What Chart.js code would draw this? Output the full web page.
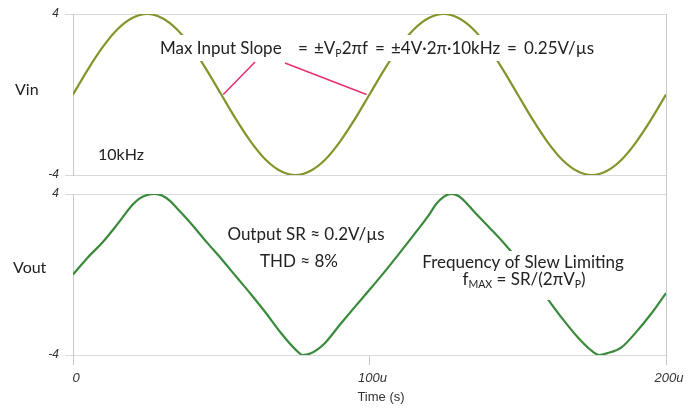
<!DOCTYPE html>
<html>
<head>
<meta charset="utf-8">
<script src="https://cdn.jsdelivr.net/npm/chart.js@4"></script>
<style>
  body { margin: 0; background: #fff; }
  #wrap { position: relative; width: 700px; height: 408px; }
  #top { position: absolute; left: 0; top: 0; }
  #bot { position: absolute; left: 0; top: 186px; }
</style>
</head>
<body>
<div id="wrap">
  <canvas id="top" width="700" height="186"></canvas>
  <canvas id="bot" width="700" height="222"></canvas>
</div>
<script>
var vinTime = [0,5,10,15,20,25,30,35,40,45,50,55,60,65,70,75,80,85,90,95,100,
               105,110,115,120,125,130,135,140,145,150,155,160,165,170,175,180,185,190,195,200];
var vin = [0,1.24,2.35,3.24,3.80,4,3.80,3.24,2.35,1.24,0,-1.24,-2.35,-3.24,-3.80,-4,-3.80,-3.24,-2.35,-1.24,0,
           1.24,2.35,3.24,3.80,4,3.80,3.24,2.35,1.24,0,-1.24,-2.35,-3.24,-3.80,-4,-3.80,-3.24,-2.35,-1.24,0];

// slew limited output
var voutTime = [0,5,10,15,20,22.5,25,27.5,30,32.5,35,40,45,50,55,60,65,70,75,77.5,80,82.5,85,90,95,100,
                105,110,115,120,122.5,125,127.5,130,132.5,135,140,145,150,155,160,165,170,175,177.5,180,185,190,195,200];
var vout = [0,0.85,1.60,2.50,3.45,3.78,3.95,4.0,3.92,3.68,3.30,2.50,1.62,0.78,-0.10,-0.98,-1.90,-2.88,-3.72,-4.0,-3.93,-3.72,-3.40,-2.50,-1.62,-0.76,
            0.12,1.04,1.98,2.95,3.50,3.86,4.0,3.90,3.58,3.17,2.40,1.62,0.75,-0.22,-1.20,-2.18,-3.08,-3.80,-4.0,-3.92,-3.62,-2.85,-1.95,-0.92];

var yTicks = [-4, 4];
var xTicks = [0, 100, 200];

Chart.defaults.font.family = "'Liberation Sans', Arial";

function pts(t, v) { return t.map(function (x, i) { return {x: x, y: v[i]}; }); }

var TXT = '#222';
var FS = 17;

// draws text made of runs, [text, subscript?]
function runs(ctx, parts, x, y, size, align) {
  var w = 0;
  parts.forEach(function (p) {
    ctx.font = (p[1] ? size * 0.62 : size) + 'px Lato';
    w += ctx.measureText(p[0]).width;
  });
  var cx = align === 'center' ? x - w / 2 : x;
  ctx.textAlign = 'left';
  ctx.textBaseline = 'middle';
  ctx.fillStyle = TXT;
  parts.forEach(function (p) {
    ctx.font = (p[1] ? size * 0.62 : size) + 'px Lato';
    ctx.fillText(p[0], cx, p[1] ? y + size * 0.3 : y);
    cx += ctx.measureText(p[0]).width;
  });
}

function rightLine(ctx, y0, y1) {
  ctx.save();
  ctx.strokeStyle = '#c8c8c8';
  ctx.lineWidth = 1;
  ctx.beginPath();
  ctx.moveTo(666.5, y0); ctx.lineTo(666.5, y1);
  ctx.stroke();
  ctx.restore();
}

function yAxis() {
  return {
    min: -4, max: 4,
    afterBuildTicks: function (ax) { ax.ticks = yTicks.map(function (v) { return {value: v}; }); },
    afterFit: function (ax) { ax.width = 73; ax.paddingTop = 0; ax.paddingBottom = 0; },
    ticks: {font: {size: 12, style: 'italic'}, color: '#333', padding: 6},
    grid: {color: '#d9d9d9', tickLength: 8},
    border: {display: true, color: '#c8c8c8'}
  };
}

var topDeco = {
  id: 'topDeco',
  afterDatasetsDraw: function (chart) {
    var ctx = chart.ctx, x = chart.scales.x, y = chart.scales.y;
    ctx.save();
    ctx.fillStyle = '#fff';
    ctx.fillRect(158, 35, 444, 26);
    // pointer lines to the zero crossings
    ctx.strokeStyle = '#e8336d';
    ctx.lineWidth = 1.6;
    ctx.beginPath();
    ctx.moveTo(255, 62); ctx.lineTo(x.getPixelForValue(50) + 2, y.getPixelForValue(0));
    ctx.moveTo(285, 63); ctx.lineTo(x.getPixelForValue(100) - 3, y.getPixelForValue(0));
    ctx.stroke();
    runs(ctx, [['Max Input Slope']], 160, 49, FS);
    runs(ctx, [['=']], 298, 49, FS);
    runs(ctx, [['±V'], ['P', true], ['2πf']], 314, 49, FS);
    runs(ctx, [['=']], 375, 49, FS);
    runs(ctx, [['±4V·2π·10kHz']], 391, 49, FS);
    runs(ctx, [['=']], 507, 49, FS);
    runs(ctx, [['0.25V/µs']], 524, 49, FS);
    runs(ctx, [['Vin']], 15, 90, 16);
    runs(ctx, [['10kHz']], 98, 155, 16);
    ctx.restore();
  },
  afterDraw: function (chart) { rightLine(chart.ctx, 14, 186); }
};

var botDeco = {
  id: 'botDeco',
  afterDatasetsDraw: function (chart) {
    var ctx = chart.ctx;
    ctx.save();
    ctx.fillStyle = '#fff';
    ctx.fillRect(414, 65, 218, 49);
    runs(ctx, [['Output SR ≈ 0.2V/µs']], 306, 49, FS, 'center');
    runs(ctx, [['THD ≈ 8%']], 299, 76, FS, 'center');
    runs(ctx, [['Frequency of Slew Limiting']], 523, 77, FS, 'center');
    runs(ctx, [['f'], ['MAX', true], [' = SR/(2πV'], ['P', true], [')']], 524, 94, FS, 'center');
    runs(ctx, [['Vout']], 13, 82, 16);
    // axis title
    ctx.font = "13px 'Liberation Sans', Arial";
    ctx.fillStyle = '#333';
    ctx.textAlign = 'center';
    ctx.textBaseline = 'middle';
    ctx.fillText('Time (s)', 381, 211);
    ctx.restore();
  },
  afterDraw: function (chart) { rightLine(chart.ctx, 0, 176); }
};

var topChart = new Chart(document.getElementById('top'), {
  type: 'line',
  data: {
    datasets: [{
      label: 'Vin',
      data: pts(vinTime, vin),
      borderColor: '#83952a',
      borderWidth: 2.2,
      pointRadius: 0,
      cubicInterpolationMode: 'monotone'
    }]
  },
  options: {
    responsive: false,
    animation: false,
    layout: {padding: {top: 14, right: 34, bottom: 11, left: 0}},
    plugins: {legend: {display: false}, tooltip: {enabled: false}},
    scales: {
      x: {type: 'linear', min: 0, max: 200, display: false},
      y: yAxis()
    }
  },
  plugins: [topDeco]
});

var botChart = new Chart(document.getElementById('bot'), {
  type: 'line',
  data: {
    datasets: [{
      label: 'Vout',
      data: pts(voutTime, vout),
      borderColor: '#3a8a3c',
      borderWidth: 2.2,
      pointRadius: 0,
      cubicInterpolationMode: 'monotone'
    }]
  },
  options: {
    responsive: false,
    animation: false,
    layout: {padding: {top: 8, right: 34, bottom: 0, left: 0}},
    plugins: {legend: {display: false}, tooltip: {enabled: false}},
    scales: {
      x: {
        type: 'linear', min: 0, max: 200,
        afterBuildTicks: function (ax) { ax.ticks = xTicks.map(function (v) { return {value: v}; }); },
        afterFit: function (ax) { ax.height = 53; },
        ticks: {
          font: {size: 13, style: 'italic'}, color: '#333', padding: 6, maxRotation: 0, labelOffset: 3,
          callback: function (v) { return v === 0 ? '0' : v + 'u'; }
        },
        grid: {drawOnChartArea: false, tickLength: 10, color: '#c8c8c8'},
        border: {display: false}
      },
      y: yAxis()
    }
  },
  plugins: [botDeco]
});
</script>
</body>
</html>
